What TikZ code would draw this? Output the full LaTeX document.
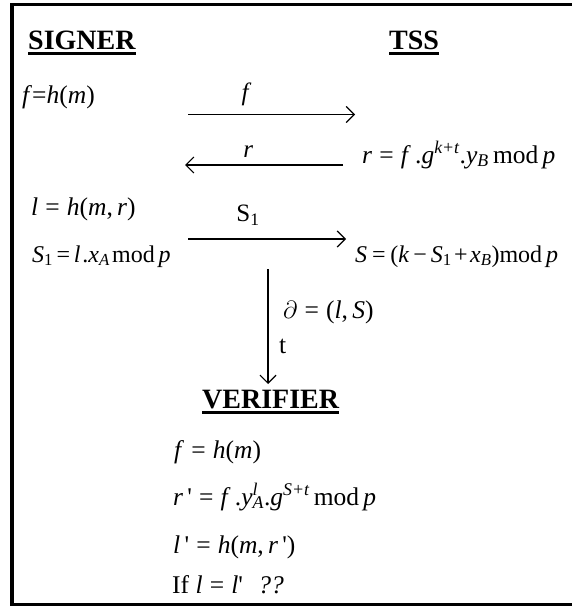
\documentclass[tikz,border=0pt]{standalone}
\usepackage{fontspec}
\setmainfont{Liberation Serif}
\usetikzlibrary{arrows.meta}
\newcommand\mi[1]{\textit{#1}}
\newcommand\sups[1]{\textsuperscript{\itshape #1}}
\newcommand\subs[1]{\textsubscript{\itshape #1}}
\newcommand\eqs{\hspace{0.28em}=\hspace{0.28em}}
\newcommand\pr{\textquotesingle}
\begin{document}
\begin{tikzpicture}[x=1pt,y=-1pt,
  hdr/.style={font=\fontsize{28}{32}\selectfont\bfseries, inner sep=0pt, anchor=base west},
  eq/.style={font=\fontsize{25.5}{30}\selectfont, inner sep=0pt, anchor=base west},
  lbl/.style={font=\fontsize{25}{30}\selectfont, inner sep=0pt, anchor=base},
  msg/.style={line width=1.2pt, -{Straight Barb[length=8pt,width=16pt,line width=1.2pt]}},
  ul/.style={line width=3pt}]
\useasboundingbox (0,0) rectangle (572,607);
\draw[line width=3.5pt] (574,4.5) -- (12,4.5) -- (12,604.5) -- (574,604.5);

% headers
\node[hdr] (signer) at (28,50) {SIGNER};
\node[hdr] (tss) at (389,50) {TSS};
\node[hdr] (verifier) at (202,408) {VERIFIER};
\foreach \n in {signer,tss,verifier}
  \draw[ul] ([yshift=-4pt]\n.base west) -- ([yshift=-4pt]\n.base east);

% signer side
\node[eq] (fh) at (22,104) {\mi{f}=\mi{h}(\mi{m})};
\node[eq] (lh) at (31,215) {\mi{l}\eqs\mi{h}(\mi{m},\,\mi{r})};
\node[eq, font=\fontsize{24}{28}\selectfont] (s1) at (32,262) {\mi{S}\textsubscript{1}\hspace{0.15em}=\hspace{0.15em}\mi{l}\hspace{0.08em}.\mi{x}\subs{A}\hspace{0.1em}mod\hspace{0.15em}\mi{p}};

% tss side
\node[eq] (req) at (362,163) {\mi{r}\eqs\mi{f}\,.\mi{g}\sups{k+t}.\mi{y}\subs{B}\,mod\,\mi{p}};
\node[eq, font=\fontsize{24}{28}\selectfont] (seq) at (355,262) {\mi{S}\hspace{0.2em}=\hspace{0.2em}(\mi{k}\,\textminus\,\mi{S}\textsubscript{1}\hspace{0.1em}+\hspace{0.1em}\mi{x}\subs{B})mod\,\mi{p}};

% message arrows
\coordinate (fa) at (188,114.5);
\coordinate (fb) at (355,114.5);
\draw[msg] (fa) -- (fb) node[lbl, pos=0.35, above=8pt] (flbl) {\mi{f}};
\coordinate (ra) at (343,165);
\coordinate (rb) at (185,165);
\draw[msg] (ra) -- (rb) node[lbl, pos=0.6, above=7pt] (rlbl) {\mi{r}};
\coordinate (sa) at (188,239);
\coordinate (sb) at (346,239);
\draw[msg] (sa) -- (sb) node[lbl, pos=0.38, above=13pt] (slbl) {S\textsubscript{1}};

% vertical arrow to verifier
\coordinate (va) at (268,269);
\coordinate (vb) at (268,384);
\draw[msg] (va) -- (vb);
\node[eq] (dl) at (283,318) {$\partial$\eqs(\mi{l},\,\mi{S})};
\node[eq] (tl) at (279,353) {t};

% verifier side
\node[eq] (vf) at (174,458) {\mi{f}\eqs\mi{h}(\mi{m})};
\node[eq] (vr) at (173,505) {\mi{r}\,\pr\eqs\mi{f}\,.\mi{y}\rlap{\textsuperscript{\itshape l}}\textsubscript{\itshape A}.\mi{g}\sups{S+t}\,mod\,\mi{p}};
\node[eq] (vl) at (173,553) {\mi{l}\,\pr\eqs\mi{h}(\mi{m},\,\mi{r}\,\pr)};
\node[eq] (vif) at (172,593) {If \mi{l}\eqs\mi{l}\pr\hspace{0.6em}\mi{??}};
\end{tikzpicture}
\end{document}
